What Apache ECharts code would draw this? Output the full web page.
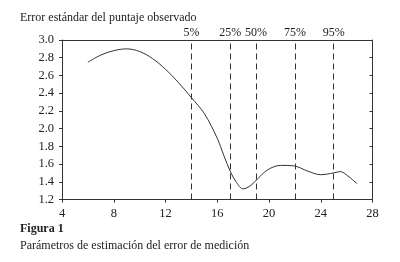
<!DOCTYPE html>
<html>
<head>
<meta charset="utf-8">
<script src="https://cdn.jsdelivr.net/npm/echarts@6/dist/echarts.min.js"></script>
<style>html,body{margin:0;padding:0;background:#fff;}#c{width:400px;height:262px;}</style>
</head>
<body>
<div id="c"></div>
<script>
var curveX = [6.0, 7, 8, 9, 10, 11, 12, 13, 14, 15, 16, 16.5, 17, 17.5, 18, 18.6, 19.1, 19.9, 20.9, 21.9, 23, 24, 25, 25.5, 26.1, 26.8];
var curveY = [2.75, 2.83, 2.88, 2.90, 2.87, 2.79, 2.67, 2.52, 2.35, 2.17, 1.89, 1.70, 1.52, 1.39, 1.32, 1.36, 1.43, 1.535, 1.585, 1.58, 1.52, 1.48, 1.50, 1.515, 1.465, 1.38];
var pctPositions = [14, 17, 19, 22, 25];
var pctLabels = ['5%', '25%', '50%', '75%', '95%'];
var xTicks = {min: 4, max: 28, interval: 4};
var yTicks = {min: 1.2, max: 3.0, interval: 0.2};

var FONT = "'Liberation Serif', 'Times New Roman', serif";
var TXT = '#222';
var LINE = '#333';

var data = curveX.map(function (x, i) { return [x, curveY[i]]; });
var marks = pctPositions.map(function (x, i) { return {xAxis: x, name: pctLabels[i]}; });

var chart = echarts.init(document.getElementById('c'), null, {renderer: 'canvas'});
chart.setOption({
  animation: false,
  backgroundColor: '#fff',
  grid: {left: 62, right: 27.5, top: 40, bottom: 62.5, containLabel: false},
  xAxis: [{
    type: 'value', min: xTicks.min, max: xTicks.max, interval: xTicks.interval,
    axisLine: {show: true, lineStyle: {color: LINE, width: 1}},
    axisTick: {show: true, inside: false, length: 3, lineStyle: {color: LINE}},
    axisLabel: {color: TXT, fontFamily: FONT, fontSize: 12.5, margin: 8},
    splitLine: {show: false}
  }, {
    type: 'value', position: 'top', min: xTicks.min, max: xTicks.max, interval: xTicks.interval,
    axisLine: {show: true, lineStyle: {color: LINE, width: 1}},
    axisTick: {show: false}, axisLabel: {show: false}, splitLine: {show: false}
  }],
  yAxis: [{
    type: 'value', min: yTicks.min, max: yTicks.max, interval: yTicks.interval,
    axisLine: {show: true, lineStyle: {color: LINE, width: 1}},
    axisTick: {show: true, inside: false, length: 3, lineStyle: {color: LINE}},
    axisLabel: {color: TXT, fontFamily: FONT, fontSize: 12.5, margin: 8,
      formatter: function (v) { return v.toFixed(1); }},
    splitLine: {show: false}
  }, {
    type: 'value', position: 'right', min: yTicks.min, max: yTicks.max, interval: yTicks.interval,
    axisLine: {show: true, lineStyle: {color: LINE, width: 1}},
    axisTick: {show: true, inside: true, length: 3, lineStyle: {color: LINE}},
    axisLabel: {show: false}, splitLine: {show: false}
  }],
  series: [{
    type: 'line', data: data, smooth: 0.35, showSymbol: false, symbol: 'none',
    lineStyle: {color: '#333', width: 1},
    markLine: {
      silent: true, symbol: 'none',
      lineStyle: {color: LINE, type: [6, 4], width: 1},
      label: {show: true, position: 'end', formatter: '{b}', color: TXT, fontFamily: FONT, fontSize: 12, distance: 1},
      data: marks
    }
  }],
  graphic: [
    {type: 'text', left: 20, top: 12, style: {text: 'Error estándar del puntaje observado', fill: TXT, font: "12px " + FONT}},
    {type: 'text', left: 20, top: 223, style: {text: 'Figura 1', fill: TXT, font: "bold 12px " + FONT}},
    {type: 'text', left: 20, top: 240, style: {text: 'Parámetros de estimación del error de medición', fill: TXT, font: "12px " + FONT}}
  ]
});
</script>
</body>
</html>
